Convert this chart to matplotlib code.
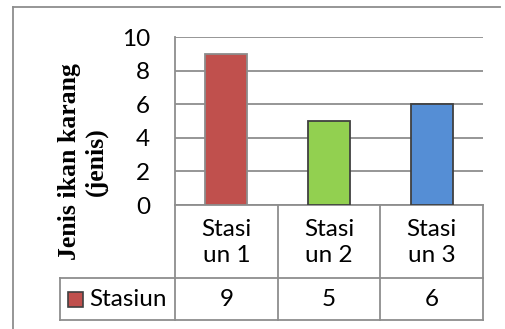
import matplotlib
matplotlib.use("Agg")
import matplotlib.pyplot as plt
from matplotlib.lines import Line2D
from matplotlib.patches import Rectangle

categories = ["Stasi\nun 1", "Stasi\nun 2", "Stasi\nun 3"]
values = [9, 5, 6]
series_name = "Stasiun"
bar_colors = ["#C0504D", "#92D050", "#558ED5"]
edge_colors = ["#8C8C8C", "#404040", "#404040"]
yticks = [0, 2, 4, 6, 8, 10]
ylabel = "Jenis ikan karang\n(jenis)"

W, H = 505, 329
fig = plt.figure(figsize=(W / 100, H / 100), dpi=100)
fig.patch.set_facecolor("white")

def fx(px):
    return px / W

def fy(py):
    return 1 - py / H

ax_l, ax_r, ax_t, ax_b = 175, 483, 37, 205
ax = fig.add_axes([fx(ax_l), fy(ax_b), (ax_r - ax_l) / W, (ax_b - ax_t) / H])
grid_c = "#8E8E8E"
sans = ["Lato", "DejaVu Sans"]
fs = 17.5

x = list(range(len(categories)))
ax.bar(x, values, width=0.41, color=bar_colors, edgecolor=edge_colors, linewidth=1.3, zorder=3)
ax.set_xlim(-0.5, len(categories) - 0.5)
ax.set_ylim(0, 10)
ax.set_yticks(yticks)
ax.set_yticklabels([str(t) for t in yticks], fontsize=fs, family=sans, color="black")
ax.tick_params(axis="y", length=0, pad=18)
ax.tick_params(axis="x", length=0, labelbottom=False)
ax.yaxis.grid(True, color=grid_c, linewidth=1.3, zorder=0)
ax.set_axisbelow(True)
for s in ["top", "right"]:
    ax.spines[s].set_visible(False)
for s in ["left", "bottom"]:
    ax.spines[s].set_color(grid_c)
    ax.spines[s].set_linewidth(1.3)

# table
def hline(x0, x1, y):
    fig.add_artist(Line2D([fx(x0), fx(x1)], [fy(y), fy(y)], color=grid_c, lw=1.3))

def vline(xx, y0, y1):
    fig.add_artist(Line2D([fx(xx), fx(xx)], [fy(y0), fy(y1)], color=grid_c, lw=1.3))

row1_b, row2_b = 278, 320
leg_l = 60
hline(leg_l, ax_r, row1_b)
hline(leg_l, ax_r, row2_b)
vline(leg_l, row1_b, row2_b)
vline(ax_l, ax_b, row2_b)
colw = (ax_r - ax_l) / len(categories)
for i in range(1, len(categories) + 1):
    vline(ax_l + i * colw, ax_b, row2_b)

for i, (c, v) in enumerate(zip(categories, values)):
    cx = ax_l + (i + 0.5) * colw
    fig.text(fx(cx), fy((ax_b + row1_b) / 2 + 1), c, ha="center", va="center",
             fontsize=fs, family=sans, linespacing=1.35)
    fig.text(fx(cx), fy((row1_b + row2_b) / 2), str(v), ha="center", va="center",
             fontsize=fs, family=sans)

fig.add_artist(Rectangle((fx(68), fy(307)), 15 / W, 15 / H, facecolor=bar_colors[0],
                         edgecolor="#404040", lw=1.2))
fig.text(fx(89), fy((row1_b + row2_b) / 2), series_name, ha="left", va="center",
         fontsize=fs, family=sans)

# y label
fig.text(fx(83), fy(162), ylabel, rotation=90, ha="center", va="center",
         fontsize=18.5, family="Liberation Serif", fontweight="bold", multialignment="center",
         linespacing=1.2)

# outer frame
hline(13, 500, 7)
vline(13, 7, 329)

fig.savefig("out.png", dpi=100)
